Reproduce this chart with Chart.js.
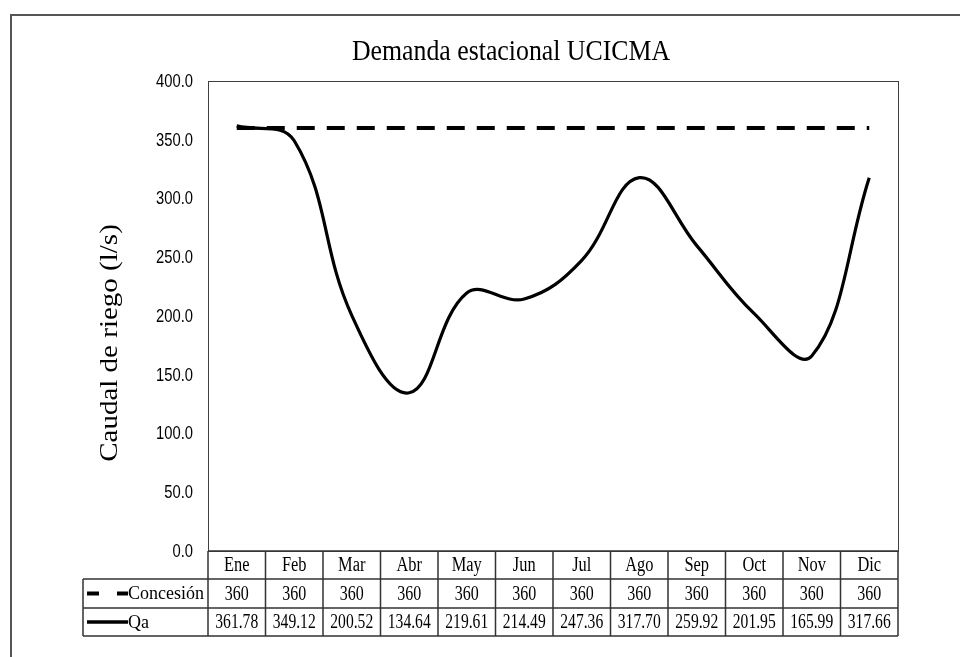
<!DOCTYPE html>
<html>
<head>
<meta charset="utf-8">
<script src="https://cdn.jsdelivr.net/npm/chart.js@4.4.0/dist/chart.umd.min.js"></script>
<style>
  html, body { margin: 0; padding: 0; background: #fff; }
  #chart { display: block; }
</style>
</head>
<body>
<canvas id="chart" width="960" height="657"></canvas>
<script>
const chartTitle = "Demanda estacional UCICMA";
const yTitle = "Caudal de riego (l/s)";
const months = ["Ene", "Feb", "Mar", "Abr", "May", "Jun", "Jul", "Ago", "Sep", "Oct", "Nov", "Dic"];
const concesion = [360, 360, 360, 360, 360, 360, 360, 360, 360, 360, 360, 360];
const qa = [361.78, 349.12, 200.52, 134.64, 219.61, 214.49, 247.36, 317.70, 259.92, 201.95, 165.99, 317.66];
const concesionText = ["360", "360", "360", "360", "360", "360", "360", "360", "360", "360", "360", "360"];
const qaText = ["361.78", "349.12", "200.52", "134.64", "219.61", "214.49", "247.36", "317.70", "259.92", "201.95", "165.99", "317.66"];

const serif = "'Liberation Serif', 'Times New Roman', serif";
const sans = "'Liberation Sans', Arial, sans-serif";

// text squeezed horizontally, like the reference
function narrowText(ctx, text, x, y, sx) {
  ctx.save();
  ctx.translate(x, y);
  ctx.scale(sx, 1);
  ctx.fillText(text, 0, 0);
  ctx.restore();
}

// draws frame, title, axis title, tick labels and the data table under the plot
const tablePlugin = {
  id: "tablePlugin",
  afterDraw(chart) {
    const ctx = chart.ctx;
    const area = chart.chartArea;
    const x = chart.scales.x;
    const y = chart.scales.y;
    const half = (x.getPixelForValue(1) - x.getPixelForValue(0)) / 2;
    ctx.save();

    // outer frame
    ctx.strokeStyle = "#555";
    ctx.lineWidth = 2;
    ctx.beginPath();
    ctx.moveTo(11, 657);
    ctx.lineTo(11, 15);
    ctx.lineTo(960, 15);
    ctx.stroke();

    // plot box
    ctx.strokeStyle = "#404040";
    ctx.lineWidth = 1;
    ctx.strokeRect(area.left + 0.5, area.top + 0.5, area.right - area.left, area.bottom - area.top);

    // title
    ctx.fillStyle = "#000";
    ctx.font = "30px " + serif;
    ctx.textAlign = "center";
    ctx.textBaseline = "alphabetic";
    narrowText(ctx, chartTitle, 511, 60, 0.86);

    // y title
    ctx.save();
    ctx.translate(117, 343);
    ctx.rotate(-Math.PI / 2);
    ctx.scale(1, 0.86);
    ctx.font = "29px " + serif;
    ctx.fillText(yTitle, 0, 0);
    ctx.restore();

    // y tick labels
    ctx.textBaseline = "middle";
    ctx.textAlign = "right";
    ctx.font = "18px " + sans;
    y.ticks.forEach((t) => {
      narrowText(ctx, t.value.toFixed(1), 193, y.getPixelForValue(t.value) + 1, 0.82);
    });

    // table
    const rows = [area.bottom, area.bottom + 28, area.bottom + 57, area.bottom + 85];
    const legLeft = 83;
    const right = x.getPixelForValue(months.length - 1) + half;
    ctx.strokeStyle = "#333";
    ctx.lineWidth = 1.5;
    ctx.beginPath();
    ctx.moveTo(area.left, rows[0]); ctx.lineTo(right, rows[0]);
    ctx.moveTo(legLeft, rows[1]); ctx.lineTo(right, rows[1]);
    ctx.moveTo(legLeft, rows[2]); ctx.lineTo(right, rows[2]);
    ctx.moveTo(legLeft, rows[3]); ctx.lineTo(right, rows[3]);
    ctx.moveTo(legLeft, rows[1]); ctx.lineTo(legLeft, rows[3]);
    for (let i = 0; i <= months.length; i++) {
      const px = x.getPixelForValue(0) - half + i * half * 2;
      ctx.moveTo(px, rows[0]); ctx.lineTo(px, rows[3]);
    }
    ctx.stroke();

    ctx.font = "20px " + serif;
    ctx.textAlign = "center";
    months.forEach((m, i) => {
      const px = x.getPixelForValue(i);
      narrowText(ctx, m, px, (rows[0] + rows[1]) / 2 + 1, 0.82);
      narrowText(ctx, concesionText[i], px, (rows[1] + rows[2]) / 2 + 1, 0.8);
      narrowText(ctx, qaText[i], px, (rows[2] + rows[3]) / 2 + 1, 0.78);
    });

    // legend keys
    const y1 = (rows[1] + rows[2]) / 2;
    const y2 = (rows[2] + rows[3]) / 2;
    ctx.strokeStyle = "#000";
    ctx.lineWidth = 4;
    ctx.beginPath();
    ctx.moveTo(87, y1); ctx.lineTo(99, y1);
    ctx.moveTo(117, y1); ctx.lineTo(128, y1);
    ctx.stroke();
    ctx.lineWidth = 3.5;
    ctx.beginPath();
    ctx.moveTo(87, y2); ctx.lineTo(128, y2);
    ctx.stroke();
    ctx.textAlign = "left";
    ctx.font = "18px " + serif;
    narrowText(ctx, "Concesión", 128, y1 + 1, 1);
    narrowText(ctx, "Qa", 128, y2 + 1, 1);

    ctx.restore();
  }
};

new Chart(document.getElementById("chart"), {
  type: "line",
  data: {
    labels: months,
    datasets: [
      {
        label: "Concesión",
        data: concesion,
        borderColor: "#000",
        borderWidth: 4,
        borderDash: [18, 12],
        borderCapStyle: "butt",
        pointRadius: 0,
        tension: 0
      },
      {
        label: "Qa",
        data: qa,
        borderColor: "#000",
        borderWidth: 3.2,
        pointRadius: 0,
        tension: 0.4
      }
    ]
  },
  options: {
    responsive: false,
    animation: false,
    layout: { padding: { top: 81, right: 62, bottom: 106, left: 0 } },
    plugins: {
      legend: { display: false },
      title: { display: false },
      tooltip: { enabled: false }
    },
    scales: {
      x: {
        display: false,
        offset: true
      },
      y: {
        min: 0,
        max: 400,
        afterFit(scale) { scale.width = 208; },
        ticks: {
          stepSize: 50,
          display: false
        },
        grid: { display: false, drawTicks: false },
        border: { display: true, color: "#404040", width: 1 }
      }
    }
  },
  plugins: [tablePlugin]
});
</script>
</body>
</html>
